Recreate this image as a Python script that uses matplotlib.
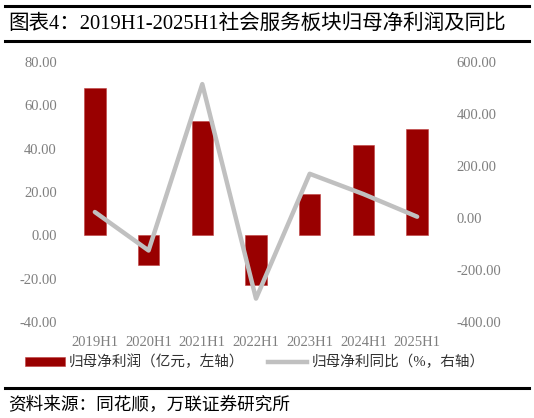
import matplotlib
matplotlib.use("Agg")
import matplotlib.pyplot as plt
from matplotlib.patches import Patch
from matplotlib.lines import Line2D
import numpy as np

plt.rcParams['font.family'] = ['Liberation Serif', 'Noto Sans CJK SC', 'DejaVu Sans']
plt.rcParams['axes.unicode_minus'] = False

# data
periods = ['2019H1', '2020H1', '2021H1', '2022H1', '2023H1', '2024H1', '2025H1']
profit = [68.2, -13.8, 52.8, -23.0, 18.9, 41.8, 49.2]        # 亿元, left axis
yoy = [23.0, -125.0, 515.0, -310.0, 170.0, 92.0, 5.0]         # %, right axis

left_ticks = [-40, -20, 0, 20, 40, 60, 80]
right_ticks = [-400, -200, 0, 200, 400, 600]

bar_color = '#990000'
line_color = '#C0C0C0'
tick_color = '#7F7F7F'
cjk = ['Liberation Serif', 'Noto Sans CJK SC', 'DejaVu Sans']

fig = plt.figure(figsize=(5.34, 4.18), dpi=100)

ax = fig.add_axes([68 / 534, 1 - 322 / 418, 376 / 534, 260 / 418])
ax2 = ax.twinx()

x = np.arange(len(periods))
ax.bar(x, profit, width=0.4, color=bar_color, edgecolor='#c04040', linewidth=0.4, zorder=2)
ax2.plot(x, yoy, color=line_color, linewidth=3.2, solid_capstyle='round', zorder=3)

ax.set_xlim(-0.5, len(periods) - 0.5)
ax.set_ylim(-40, 80)
ax2.set_ylim(-400, 600)
ax.set_yticks(left_ticks)
ax.set_yticklabels([f'{v:.2f}' for v in left_ticks])
ax2.set_yticks(right_ticks)
ax2.set_yticklabels([f'{v:.2f}' for v in right_ticks])
ax.set_xticks(x)
ax.set_xticklabels(periods)

for a in (ax, ax2):
    for s in a.spines.values():
        s.set_visible(False)
    a.tick_params(length=0, colors=tick_color, labelsize=10.5)
ax.tick_params(axis='y', pad=8)
ax2.tick_params(axis='y', pad=9)
ax.tick_params(axis='x', pad=10)

# legend
handles = [Patch(facecolor=bar_color, edgecolor='#c04040', linewidth=0.4),
           Line2D([0], [0], color=line_color, linewidth=3.2)]
labels = ['归母净利润（亿元，左轴）', '归母净利同比（%，右轴）']
fig.legend(handles, labels, loc='center', bbox_to_anchor=(255 / 534, 1 - 362 / 418),
           ncol=2, frameon=False, handlelength=2.7, handleheight=0.55,
           columnspacing=1.6, handletextpad=0.3,
           prop={'family': cjk, 'size': 10.5}, labelcolor='#333333')

# title block
fig.add_artist(Line2D([5 / 534, 529 / 534], [1 - 6 / 418] * 2, color='black', linewidth=2.2))
fig.add_artist(Line2D([5 / 534, 529 / 534], [1 - 41 / 418] * 2, color='black', linewidth=2.2))
fig.text(8 / 534, 1 - 24 / 418, '图表4：2019H1-2025H1社会服务板块归母净利润及同比',
         fontsize=14.8, family=cjk, va='center', ha='left', color='black')

# source block
fig.add_artist(Line2D([5 / 534, 529 / 534], [1 - 388 / 418] * 2, color='black', linewidth=2.2))
fig.text(8 / 534, 1 - 405 / 418, '资料来源：同花顺，万联证券研究所',
         fontsize=12.7, family=cjk, va='center', ha='left', color='black')

fig.savefig('out.png', dpi=100)
